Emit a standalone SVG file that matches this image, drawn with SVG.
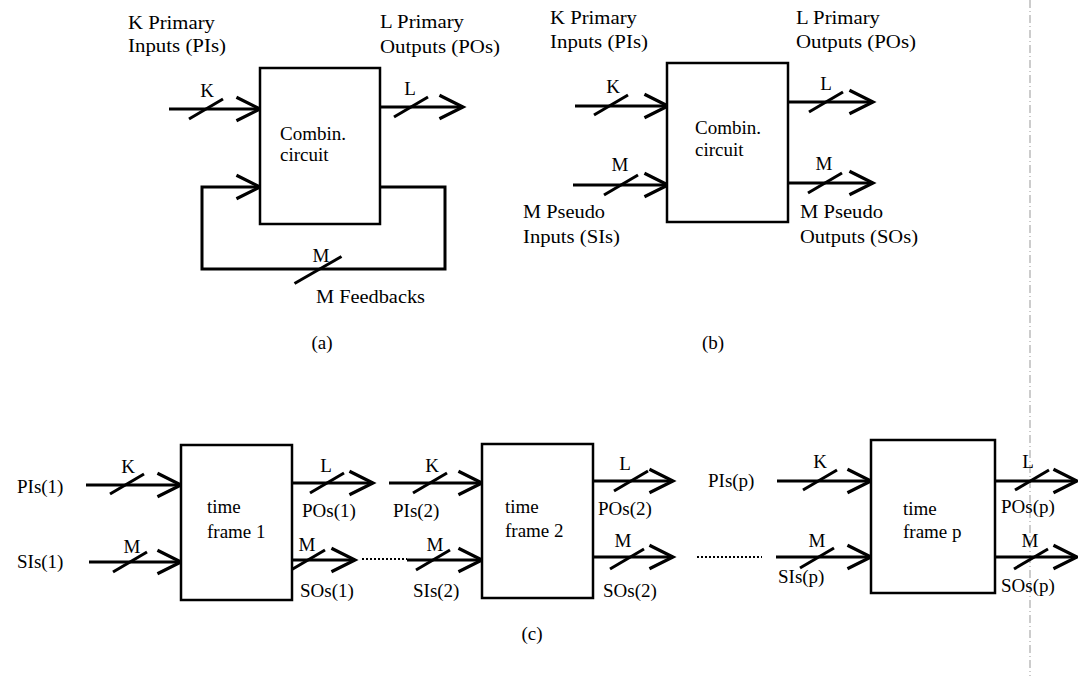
<svg xmlns="http://www.w3.org/2000/svg" width="1078" height="676" viewBox="0 0 1078 676">
<style>
text{font-family:"Liberation Serif","Times New Roman",serif;font-size:19px;fill:#000}
.m{text-anchor:middle}
.box{fill:#fff;stroke:#000;stroke-width:2.5}
.w{fill:none;stroke:#000;stroke-width:3}
.s{stroke:#000;stroke-width:3}
.dot{fill:none;stroke:#000;stroke-width:2;stroke-dasharray:2 2}
</style>
<defs>
<marker id="ah" markerUnits="userSpaceOnUse" markerWidth="30" markerHeight="30" viewBox="-25 -14 28 28" refX="0" refY="0" orient="auto" overflow="visible">
<path d="M-22 -11 L0 0 L-22 11" fill="none" stroke="#000" stroke-width="3"/>
</marker>
<line id="sl" class="s" x1="-17" y1="10" x2="17" y2="-10"/>
<line id="slL" class="s" x1="-23.5" y1="13.5" x2="23.5" y2="-13.5"/>
</defs>
<rect width="1078" height="676" fill="#fff"/>
<line x1="1030" y1="0" x2="1030" y2="676" stroke="#999" stroke-width="1" stroke-dasharray="8 3 1 3"/>

<g id="connectors">
<!-- (a) -->
<line class="w" x1="169" y1="109" x2="260" y2="109" marker-end="url(#ah)"/>
<use href="#sl" x="206" y="109"/>
<line class="w" x1="380" y1="107" x2="463" y2="107" marker-end="url(#ah)"/>
<use href="#sl" x="411" y="107"/>
<polyline class="w" points="380,187 445,187 445,269 202,269 202,187 260,187" marker-end="url(#ah)"/>
<use href="#slL" x="318" y="270"/>
<!-- (b) -->
<line class="w" x1="575" y1="106" x2="668" y2="106" marker-end="url(#ah)"/>
<use href="#sl" x="611" y="105"/>
<line class="w" x1="573" y1="185" x2="668" y2="185" marker-end="url(#ah)"/>
<use href="#sl" x="621" y="185"/>
<line class="w" x1="788" y1="102" x2="873" y2="102" marker-end="url(#ah)"/>
<use href="#sl" x="826" y="102"/>
<line class="w" x1="788" y1="183" x2="873" y2="183" marker-end="url(#ah)"/>
<use href="#sl" x="825" y="183"/>
<!-- (c) -->
<line class="w" x1="86" y1="485" x2="181" y2="485" marker-end="url(#ah)"/>
<use href="#sl" x="127" y="484"/>
<line class="w" x1="89" y1="562" x2="181" y2="562" marker-end="url(#ah)"/>
<use href="#sl" x="130" y="562"/>
<line class="w" x1="292" y1="483" x2="373" y2="483" marker-end="url(#ah)"/>
<use href="#sl" x="327" y="483"/>
<line class="w" x1="292" y1="560" x2="355" y2="560" marker-end="url(#ah)"/>
<use href="#sl" x="308" y="560"/>
<line class="dot" x1="362" y1="559" x2="407" y2="559"/>
<line class="w" x1="407" y1="560" x2="482" y2="560" marker-end="url(#ah)"/>
<use href="#sl" x="433" y="560"/>
<line class="w" x1="389" y1="483" x2="482" y2="483" marker-end="url(#ah)"/>
<use href="#sl" x="430" y="483"/>
<line class="w" x1="593" y1="481" x2="673" y2="481" marker-end="url(#ah)"/>
<use href="#sl" x="631" y="481"/>
<line class="w" x1="593" y1="557" x2="673" y2="557" marker-end="url(#ah)"/>
<use href="#sl" x="627" y="559"/>
<line class="dot" x1="697" y1="557" x2="762" y2="557"/>
<line class="w" x1="777" y1="481" x2="871" y2="481" marker-end="url(#ah)"/>
<use href="#sl" x="820" y="480"/>
<line class="w" x1="776" y1="557" x2="871" y2="557" marker-end="url(#ah)"/>
<use href="#sl" x="817" y="558"/>
<line class="w" x1="995" y1="481" x2="1077" y2="481" marker-end="url(#ah)"/>
<use href="#sl" x="1032" y="480"/>
<line class="w" x1="995" y1="557" x2="1077" y2="557" marker-end="url(#ah)"/>
<use href="#sl" x="1031" y="559"/>
</g>

<g id="nodeA">
<rect class="box" x="260" y="68" width="120" height="156"/>
<text x="280" y="140">Combin.</text>
<text x="280" y="161">circuit</text>
</g>
<g id="nodeB">
<rect class="box" x="667" y="63" width="121" height="159"/>
<text x="695" y="134">Combin.</text>
<text x="695" y="156">circuit</text>
</g>
<g id="frame1">
<rect class="box" x="181" y="445" width="111" height="155"/>
<text x="207" y="513">time</text>
<text x="207" y="538">frame 1</text>
</g>
<g id="frame2">
<rect class="box" x="482" y="444" width="111" height="154"/>
<text x="505" y="513">time</text>
<text x="505" y="537">frame 2</text>
</g>
<g id="frameP">
<rect class="box" x="871" y="440" width="124" height="153"/>
<text x="903" y="515">time</text>
<text x="903" y="538">frame p</text>
</g>

<g id="labels">
<!-- (a) -->
<text x="128" y="29" textLength="87" lengthAdjust="spacingAndGlyphs">K Primary</text>
<text x="128" y="52" textLength="98" lengthAdjust="spacingAndGlyphs">Inputs (PIs)</text>
<text x="380" y="28" textLength="84" lengthAdjust="spacingAndGlyphs">L Primary</text>
<text x="380" y="53" textLength="120" lengthAdjust="spacingAndGlyphs">Outputs (POs)</text>
<text class="m" x="207" y="97">K</text>
<text class="m" x="410" y="95">L</text>
<text class="m" x="321" y="262">M</text>
<text x="316" y="303" textLength="109" lengthAdjust="spacingAndGlyphs">M Feedbacks</text>
<text class="m" x="322" y="349">(a)</text>
<!-- (b) -->
<text x="550" y="24" textLength="87" lengthAdjust="spacingAndGlyphs">K Primary</text>
<text x="550" y="48" textLength="98" lengthAdjust="spacingAndGlyphs">Inputs (PIs)</text>
<text x="796" y="24" textLength="84" lengthAdjust="spacingAndGlyphs">L Primary</text>
<text x="796" y="48" textLength="120" lengthAdjust="spacingAndGlyphs">Outputs (POs)</text>
<text class="m" x="613" y="93">K</text>
<text class="m" x="620" y="171">M</text>
<text class="m" x="826" y="90">L</text>
<text class="m" x="824" y="170">M</text>
<text x="523" y="218" textLength="82" lengthAdjust="spacingAndGlyphs">M Pseudo</text>
<text x="523" y="243" textLength="97" lengthAdjust="spacingAndGlyphs">Inputs (SIs)</text>
<text x="800" y="218" textLength="83" lengthAdjust="spacingAndGlyphs">M Pseudo</text>
<text x="800" y="243" textLength="118" lengthAdjust="spacingAndGlyphs">Outputs (SOs)</text>
<text class="m" x="713" y="349">(b)</text>
<!-- (c) -->
<text x="17" y="493">PIs(1)</text>
<text x="17" y="568">SIs(1)</text>
<text class="m" x="128" y="473">K</text>
<text class="m" x="132" y="553">M</text>
<text class="m" x="326" y="472">L</text>
<text class="m" x="307" y="551">M</text>
<text x="302" y="517">POs(1)</text>
<text x="300" y="597">SOs(1)</text>
<text class="m" x="432" y="472">K</text>
<text class="m" x="435" y="551">M</text>
<text x="393" y="517">PIs(2)</text>
<text x="413" y="597">SIs(2)</text>
<text class="m" x="625" y="470">L</text>
<text class="m" x="623" y="547">M</text>
<text x="598" y="515">POs(2)</text>
<text x="603" y="597">SOs(2)</text>
<text x="708" y="487">PIs(p)</text>
<text class="m" x="820" y="468">K</text>
<text class="m" x="817" y="547">M</text>
<text x="778" y="583">SIs(p)</text>
<text class="m" x="1028" y="468">L</text>
<text class="m" x="1030" y="547">M</text>
<text x="1001" y="513">POs(p)</text>
<text x="1001" y="592">SOs(p)</text>
<text class="m" x="532" y="640">(c)</text>
</g>
</svg>
